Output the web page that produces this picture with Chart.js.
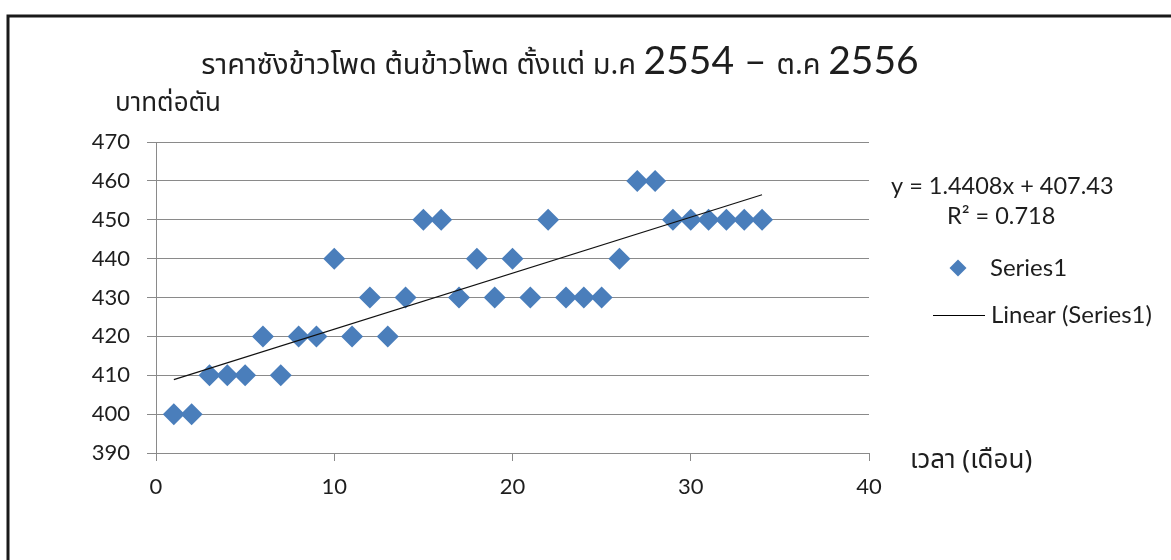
<!DOCTYPE html>
<html>
<head>
<meta charset="utf-8">
<script src="https://cdn.jsdelivr.net/npm/chart.js@4.4.1/dist/chart.umd.min.js"></script>
<style>
  html, body { margin: 0; padding: 0; background: #ffffff; }
  #wrap { width: 1171px; height: 560px; position: relative; overflow: hidden; }
  canvas { display: block; }
</style>
</head>
<body>
<div id="wrap"><canvas id="chart" width="1171" height="560"></canvas></div>
<script>
// Monthly price of corn stover (baht per ton), Jan 2554 – Oct 2556
const months = [1, 2, 3, 4, 5, 6, 7, 8, 9, 10, 11, 12, 13, 14, 15, 16, 17,
                18, 19, 20, 21, 22, 23, 24, 25, 26, 27, 28, 29, 30, 31, 32, 33, 34];
const prices = [400, 400, 410, 410, 410, 420, 410, 420, 420, 440, 420, 430, 420, 430, 450, 450, 430,
                440, 430, 440, 430, 450, 430, 430, 430, 440, 460, 460, 450, 450, 450, 450, 450, 450];

const xTicks = [0, 10, 20, 30, 40];
const yTicks = [390, 400, 410, 420, 430, 440, 450, 460, 470];

// Linear trend fitted to the series
const trendSlope = 1.4408;
const trendIntercept = 407.43;
const trendR2 = 0.718;

const seriesName = 'Series1';
const trendName = 'Linear (Series1)';

const titleRuns = [
  { text: 'ราคาซังข้าวโพด ต้นข้าวโพด ตั้งแต่ ม.ค ', kind: 'thai' },
  { text: '2554 – ', kind: 'latin' },
  { text: 'ต.ค ', kind: 'thai' },
  { text: '2556', kind: 'latin' }
];
const yAxisTitle = 'บาทต่อตัน';
const xAxisTitle = 'เวลา (เดือน)';

const LATIN = 'Lato, "Open Sans", sans-serif';
const THAI = '"Noto Sans Thai", "Noto Sans", "DejaVu Sans", sans-serif';
const MARK = '#4a7ebb';
const GRID = '#8a8a8a';
const TEXT = '#1e1e1e';

const points = months.map((m, i) => ({ x: m, y: prices[i] }));
const xFirst = months[0], xLast = months[months.length - 1];
const trendPoints = [xFirst, xLast].map(x => ({ x: x, y: trendIntercept + trendSlope * x }));

const eqText = 'y = ' + trendSlope.toFixed(4) + 'x + ' + trendIntercept.toFixed(2);
const r2Text = 'R² = ' + trendR2.toFixed(3);

// Frame, title, axis titles and the side legend
const decor = {
  id: 'decor',
  beforeDraw(chart) {
    const ctx = chart.ctx;
    ctx.save();
    ctx.fillStyle = '#ffffff';
    ctx.fillRect(0, 0, chart.width, chart.height);
    ctx.strokeStyle = '#1a1a1a';
    ctx.lineWidth = 3;
    ctx.beginPath();
    ctx.moveTo(8, chart.height + 5);
    ctx.lineTo(8, 16);
    ctx.lineTo(chart.width + 5, 16);
    ctx.stroke();
    ctx.restore();
  },
  afterDraw(chart) {
    const ctx = chart.ctx;
    ctx.save();
    ctx.fillStyle = TEXT;
    ctx.textBaseline = 'alphabetic';

    // title built from runs in two fonts
    const fontFor = k => k === 'thai' ? '29px ' + THAI : '39px ' + LATIN;
    let total = 0;
    titleRuns.forEach(r => { ctx.font = fontFor(r.kind); r.w = ctx.measureText(r.text).width; total += r.w; });
    let x = 560 - total / 2;
    ctx.textAlign = 'left';
    titleRuns.forEach(r => { ctx.font = fontFor(r.kind); ctx.fillText(r.text, x, 74); x += r.w; });

    ctx.font = '26px ' + THAI;
    ctx.fillText(yAxisTitle, 115, 111);
    ctx.fillText(xAxisTitle, 910, 468);

    // trend equation
    ctx.font = '23.5px ' + LATIN;
    ctx.fillText(eqText, 891, 194);
    ctx.fillText(r2Text, 947, 224);

    // legend entries
    const ds = chart.data.datasets;
    ctx.fillStyle = MARK;
    ctx.beginPath();
    ctx.moveTo(958, 259.5); ctx.lineTo(966.5, 268); ctx.lineTo(958, 276.5); ctx.lineTo(949.5, 268);
    ctx.closePath(); ctx.fill();
    ctx.fillStyle = TEXT;
    ctx.font = '24px ' + LATIN;
    ctx.fillText(ds[0].label, 990, 276);
    ctx.strokeStyle = '#000';
    ctx.lineWidth = 1;
    ctx.beginPath(); ctx.moveTo(933, 315.5); ctx.lineTo(985, 315.5); ctx.stroke();
    ctx.fillText(ds[1].label, 991, 323);
    ctx.restore();
  }
};

new Chart(document.getElementById('chart'), {
  type: 'scatter',
  data: {
    datasets: [
      {
        label: seriesName,
        data: points,
        pointStyle: 'rectRot',
        pointRadius: 11,
        pointHoverRadius: 11,
        backgroundColor: MARK,
        borderColor: MARK,
        borderWidth: 0,
        order: 2
      },
      {
        label: trendName,
        type: 'line',
        data: trendPoints,
        borderColor: '#111111',
        borderWidth: 1.1,
        pointRadius: 0,
        fill: false,
        order: 1
      }
    ]
  },
  options: {
    responsive: false,
    animation: false,
    devicePixelRatio: 1,
    layout: { padding: { left: 0, top: 142, right: 302, bottom: 47 } },
    plugins: { legend: { display: false }, title: { display: false }, tooltip: { enabled: false } },
    scales: {
      x: {
        type: 'linear',
        min: 0, max: 40,
        afterFit(s) { s.height = 60; },
        afterBuildTicks(s) { s.ticks = xTicks.map(v => ({ value: v })); },
        grid: { drawOnChartArea: false, drawTicks: true, tickLength: 8, color: GRID, lineWidth: 1 },
        border: { display: true, color: GRID, width: 1 },
        ticks: { font: { family: LATIN, size: 22 }, color: TEXT, padding: 13, maxRotation: 0 }
      },
      y: {
        type: 'linear',
        min: 390, max: 470,
        afterFit(s) { s.width = 156; },
        afterBuildTicks(s) { s.ticks = yTicks.map(v => ({ value: v })); },
        grid: { drawOnChartArea: true, drawTicks: true, tickLength: 9, color: GRID, lineWidth: 1 },
        border: { display: true, color: GRID, width: 1 },
        ticks: { font: { family: LATIN, size: 22 }, color: TEXT, padding: 17 }
      }
    }
  },
  plugins: [decor]
});
</script>
</body>
</html>
